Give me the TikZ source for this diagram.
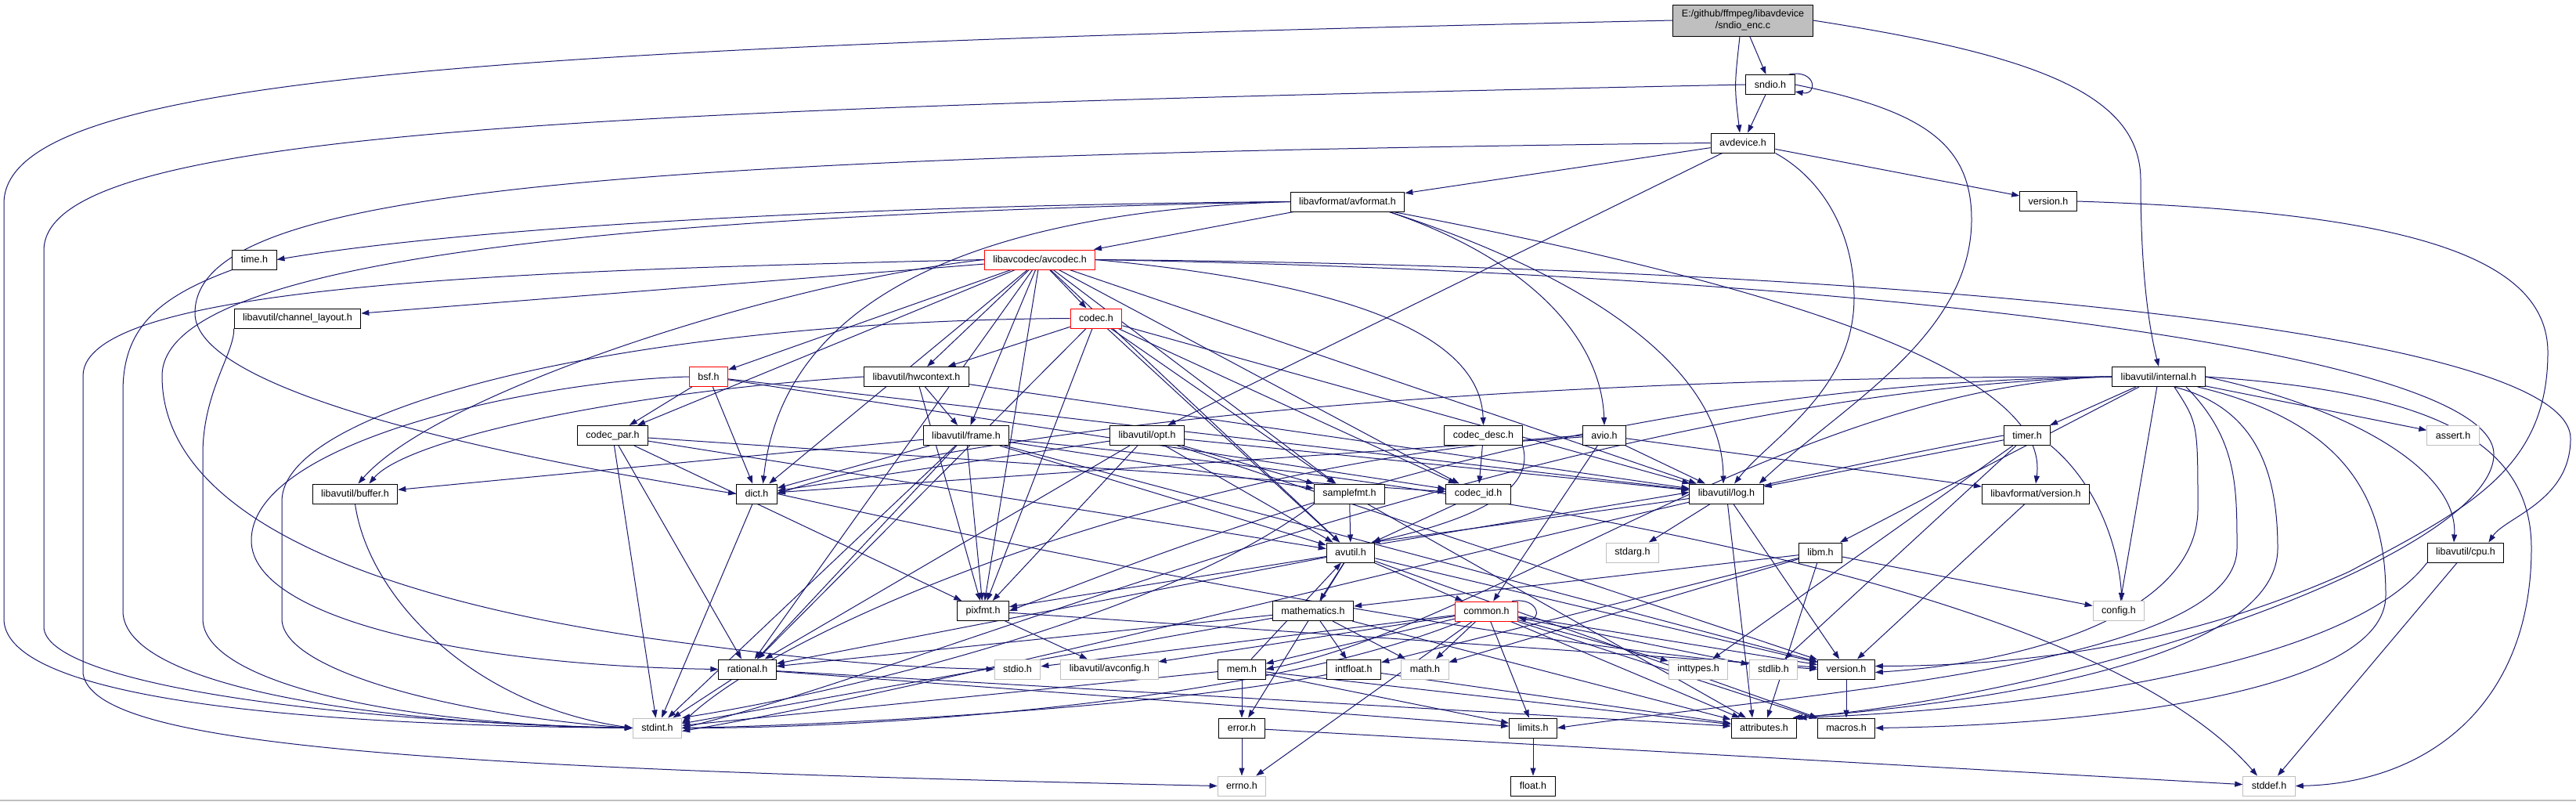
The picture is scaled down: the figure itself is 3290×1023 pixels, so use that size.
\documentclass[tikz,border=0pt]{standalone}
\usepackage{fontspec}
\setmainfont{Liberation Sans}
\usetikzlibrary{arrows.meta,calc,backgrounds}
\definecolor{edgec}{HTML}{191970}
\definecolor{grayb}{HTML}{BFBFBF}
\definecolor{encf}{HTML}{BFBFBF}
\begin{document}
\begin{tikzpicture}[x=1pt,y=-1pt,
  nd/.style={draw=black,fill=white,line width=1pt,minimum height=25pt,inner xsep=11pt,inner ysep=0pt,font=\fontsize{12.5}{15}\selectfont},
  sy/.style={nd,draw=grayb},
  tr/.style={nd,draw=red},
  ed/.style={draw=edgec,line width=1pt,-{Triangle[length=10pt,width=7pt]}}]
\useasboundingbox (0,0) rectangle (3290,1023);
\node[nd,fill=encf,minimum height=40pt,align=center] (enc) at (2226,26) {E:/github/ffmpeg/libavdevice\\/sndio\_enc.c};
\node[nd] (sndio) at (2261,108) {sndio.h};
\node[nd] (avdev) at (2226,182.5) {avdevice.h};
\node[nd] (avfmt) at (1721,257.5) {libavformat/avformat.h};
\node[nd] (lavdver) at (2616,257) {version.h};
\node[nd] (timeh) at (325,331.5) {time.h};
\node[tr] (avcodec) at (1328,331.5) {libavcodec/avcodec.h};
\node[nd] (chlayout) at (380,406.5) {libavutil/channel\_layout.h};
\node[tr] (codec) at (1400,406.5) {codec.h};
\node[tr] (bsf) at (905,481) {bsf.h};
\node[nd] (hwctx) at (1170.5,481) {libavutil/hwcontext.h};
\node[nd] (internal) at (2757,481) {libavutil/internal.h};
\node[nd] (codecpar) at (782.5,556) {codec\_par.h};
\node[nd] (frame) at (1234,556) {libavutil/frame.h};
\node[nd] (opt) at (1465,556) {libavutil/opt.h};
\node[nd] (codecdesc) at (1894.5,556) {codec\_desc.h};
\node[nd] (avio) at (2049,556) {avio.h};
\node[nd] (timer) at (2589,556) {timer.h};
\node[sy] (assert) at (3133,556) {assert.h};
\node[nd] (buffer) at (453.5,630.5) {libavutil/buffer.h};
\node[nd] (dict) at (966.5,630.5) {dict.h};
\node[nd] (samplefmt) at (1723.5,630.5) {samplefmt.h};
\node[nd] (codecid) at (1888,630.5) {codec\_id.h};
\node[nd] (log) at (2205,630.5) {libavutil/log.h};
\node[nd] (lavfver) at (2600,630.5) {libavformat/version.h};
\node[nd] (avutil) at (1725,705.5) {avutil.h};
\node[sy] (stdarg) at (2085,705.5) {stdarg.h};
\node[nd] (libm) at (2325,705.5) {libm.h};
\node[nd] (cpu) at (3149,705.5) {libavutil/cpu.h};
\node[nd] (pixfmt) at (1255.6,780) {pixfmt.h};
\node[nd] (mathem) at (1677,780) {mathematics.h};
\node[tr] (common) at (1898.5,780.5) {common.h};
\node[sy] (config) at (2706,780) {config.h};
\node[nd] (rational) at (954.5,854.5) {rational.h};
\node[sy] (stdio) at (1299.5,854.5) {stdio.h};
\node[sy] (avconfig) at (1417,854.5) {libavutil/avconfig.h};
\node[nd] (mem) at (1586,854.5) {mem.h};
\node[nd] (intfloat) at (1729,854.5) {intfloat.h};
\node[sy] (math) at (1820,854.5) {math.h};
\node[sy] (inttypes) at (2169,854.5) {inttypes.h};
\node[sy] (stdlib) at (2265,854.5) {stdlib.h};
\node[nd] (uver) at (2358,854.5) {version.h};
\node[sy] (stdint) at (839.5,929.5) {stdint.h};
\node[nd] (error) at (1586,929.5) {error.h};
\node[nd] (limits) at (1958,929.5) {limits.h};
\node[nd] (attrib) at (2253,929.5) {attributes.h};
\node[nd] (macros) at (2358,929.5) {macros.h};
\node[sy] (errno) at (1586,1003.5) {errno.h};
\node[nd] (float) at (1958,1003.5) {float.h};
\node[sy] (stddef) at (2898,1003.5) {stddef.h};
\begin{pgfonlayer}{background}
\fill[white] (0,0) rectangle (3290,1023);
\draw[grayb,line width=2pt] (0,1022) -- (3290,1022);
% sndio_enc.c
\draw[ed] (enc) -- (sndio);
\draw[ed] ($(enc.south)+(-4,0)$) .. controls (2215,110) .. ($(avdev.north)+(-4,0)$);
\draw[ed] (enc.west) .. controls (600,60) and (5,100) .. (5,260) -- (5,790) .. controls (5,880) and (300,925) .. (stdint.west);
\draw[ed] (enc.east) .. controls (2600,70) and (2734,120) .. (2734,230) .. controls (2734,350) and (2745,420) .. (internal.north);
% sndio.h
\draw[ed] ($(sndio.north east)+(-8,0)$) .. controls (2320,88) and (2322,122) .. ($(sndio.east)+(0,9)$);
\draw[ed] (sndio) -- (avdev);
\draw[ed] (sndio.west) .. controls (700,140) and (56,170) .. (56,320) -- (56,800) .. controls (56,870) and (400,920) .. (stdint.west);
\draw[ed] (sndio.east) .. controls (2450,140) and (2518,180) .. (2518,280) .. controls (2518,430) and (2350,520) .. ($(log.north east)+(-6,0)$);
% avdevice.h
\draw[ed] (avdev) -- (avfmt);
\draw[ed] (avdev) -- (opt);
\draw[ed] (avdev) -- (lavdver);
\draw[ed] (avdev.south east) .. controls (2330,230) and (2368,300) .. (2368,380) .. controls (2368,500) and (2260,560) .. ($(log.north)+(10,0)$);
\draw[ed] (avdev.west) .. controls (700,200) and (249,250) .. (249,400) .. controls (249,480) and (500,560) .. (dict.west);
\draw[ed] (lavdver.east) .. controls (3050,270) and (3254,320) .. (3254,450) .. controls (3254,600) and (3150,650) .. (3000,730) .. controls (2800,820) and (2600,850) .. ($(uver.east)+(0,-4)$);
% avformat.h
\draw[ed] (avfmt) -- (avcodec);
\draw[ed] (avfmt.west) .. controls (1100,262) and (600,290) .. (timeh.east);
\draw[ed] (avfmt.west) .. controls (800,275) and (207,330) .. (207,480) .. controls (207,650) and (450,760) .. (830,815) .. controls (1050,845) and (1150,852) .. (stdio.west);
\draw[ed] (avfmt.west) .. controls (1250,270) and (1000,380) .. ($(dict.north)+(8,0)$);
\draw[ed] ($(avfmt.south east)+(-20,0)$) .. controls (1950,330) and (2045,430) .. (avio.north);
\draw[ed] ($(avfmt.south east)+(-20,0)$) .. controls (2050,360) and (2200,480) .. ($(log.north)+(-4,0)$);
\draw[ed] ($(avfmt.south east)+(-15,0)$) .. controls (2250,360) and (2620,470) .. (lavfver.north);
\draw[ed] (timeh.south west) .. controls (200,380) and (157,420) .. (157,500) -- (157,780) .. controls (157,880) and (500,925) .. (stdint.west);
% avcodec.h
\foreach \t in {chlayout,bsf,codec,hwctx,frame,dict,pixfmt,rational,samplefmt,codecpar,codecid,log,avutil} {\draw[ed] (avcodec) -- (\t);}
\draw[ed] (avcodec.west) .. controls (700,345) and (106,360) .. (106,480) -- (106,860) .. controls (120,950) and (500,980) .. (errno.west);
\draw[ed] (avcodec.west) .. controls (1000,360) and (560,500) .. ($(buffer.north)+(4,0)$);
\draw[ed] (avcodec.east) .. controls (1700,360) and (1890,420) .. (codecdesc.north);
\draw[ed] (avcodec.east) .. controls (2400,340) and (3283,420) .. (3283,560) .. controls (3283,640) and (3200,660) .. ($(cpu.north east)+(-20,0)$);
\draw[ed] (avcodec.east) .. controls (2400,350) and (3185,450) .. (3185,580) .. controls (3185,700) and (2700,880) .. ($(attrib.north east)+(-3,0)$);
\draw[ed] (chlayout.south west) .. controls (300,450) and (259,500) .. (259,580) -- (259,790) .. controls (259,870) and (500,925) .. (stdint.west);
% codec.h
\foreach \t in {hwctx,avutil,log,pixfmt,rational,samplefmt,codecid} {\draw[ed] (codec) -- (\t);}
\draw[ed] (codec.west) .. controls (800,410) and (360,520) .. (360,640) -- (360,790) .. controls (360,860) and (600,915) .. (stdint.west);
% bsf.h
\foreach \t in {dict,log,codecid,codecpar} {\draw[ed] (bsf) -- (\t);}
\draw[ed] (bsf.west) .. controls (700,485) and (321,560) .. (321,690) .. controls (321,790) and (600,850) .. (rational.west);
% hwcontext.h
\foreach \t in {frame,log,pixfmt} {\draw[ed] (hwctx) -- (\t);}
\draw[ed] (hwctx.west) .. controls (800,500) and (520,560) .. ($(buffer.north)+(18,0)$);
% frame.h
\foreach \t in {buffer,dict,rational,stdint,pixfmt,samplefmt,avutil,uver} {\draw[ed] (frame) -- (\t);}
\draw[ed] (frame) .. controls (2100,640) and (2700,780) .. ($(stddef.north)+(-15,0)$);
% opt.h
\foreach \t in {rational,avutil,dict,log,pixfmt,samplefmt,uver} {\draw[ed] (opt) -- (\t);}
% codec_desc.h, codec_par.h, codec_id.h
\draw[ed] (codecdesc) -- (codecid);
\draw[ed] (codecdesc.south east) .. controls (1960,620) and (1900,660) .. ($(avutil.north east)+(-5,0)$);
\foreach \t in {stdint,avutil,rational,pixfmt,codecid} {\draw[ed] (codecpar) -- (\t);}
\draw[ed] (codecid) -- (avutil);
% avio.h
\foreach \t in {common,dict,log,lavfver} {\draw[ed] (avio) -- (\t);}
\draw[ed] (avio.west) .. controls (1500,590) and (1000,800) .. ($(stdint.east)+(0,-6)$);
% timer.h
\foreach \t in {log,inttypes,stdlib} {\draw[ed] (timer) -- (\t);}
\draw[ed] (timer.south east) .. controls (2680,620) and (2706,700) .. ($(config.north)+(4,0)$);
\draw[ed] (timer.west) .. controls (2100,640) and (1300,860) .. ($(stdint.east)+(0,4)$);
% internal.h
\foreach \t in {timer,assert,config,libm} {\draw[ed] (internal) -- (\t);}
\draw[ed] (internal.west) .. controls (2300,490) and (1900,800) .. (mem.east);
\draw[ed] (internal.west) .. controls (2000,490) and (1500,700) .. (pixfmt.east);
\draw[ed] (internal.west) .. controls (1800,480) and (1200,560) .. (dict.east);
\draw[ed] (internal.west) .. controls (2000,500) and (1200,850) .. (stdint.east);
\draw[ed] (internal.east) .. controls (3000,520) and (3140,600) .. ($(cpu.north)+(-15,0)$);
\draw[ed] (internal.east) .. controls (3100,500) and (3233,560) .. (3233,700) .. controls (3233,900) and (3100,1000) .. (stddef.east);
\draw[ed] ($(internal.south east)+(-40,0)$) .. controls (2880,520) and (2909,600) .. (2909,700) .. controls (2909,850) and (2500,900) .. ($(attrib.north east)+(-6,0)$);
\draw[ed] ($(internal.south east)+(-10,0)$) .. controls (3000,540) and (3047,640) .. (3047,760) .. controls (3047,880) and (2700,925) .. (macros.east);
\draw[ed] ($(internal.south)+(20,0)$) .. controls (2807,540) .. (2807,650) .. controls (2807,780) and (2600,845) .. ($(uver.east)+(0,4)$);
\draw[ed] ($(internal.south)+(35,0)$) .. controls (2857,560) and (2857,620) .. (2857,700) .. controls (2857,850) and (2300,885) .. (limits.east);
% libm.h
\foreach \t in {math,config,attrib,intfloat,mathem} {\draw[ed] (libm) -- (\t);}
% mathematics.h
\foreach \t in {stdint,math,attrib,rational,intfloat} {\draw[ed] (mathem) -- (\t);}
% common.h
\foreach \t in {errno,inttypes,limits,math,stdio,stdlib,attrib,macros,uver,avconfig,mem} {\draw[ed] (common) -- (\t);}
\draw[ed] (common) .. controls (1600,900) and (1100,930) .. (stdint.east);
\draw[ed] ($(common.north east)+(-8,0)$) .. controls (1968,762) and (1970,796) .. ($(common.east)+(0,8)$);
% avutil.h
\foreach \t in {common,error,rational,uver,macros,mathem,pixfmt} {\draw[ed] (avutil) -- (\t);}
\draw[ed] ($(log.west)+(0,6)$) -- ($(avutil.north east)+(-4,0)$);
\draw[ed] ($(avutil.north east)+(6,2)$) -- ($(log.west)+(0,-2)$);
% log.h
\draw[ed] (log) -- (stdarg);
\draw[ed] (log) -- (uver);
\draw[ed] (log) -- ($(attrib.north)+(-15,0)$);
% mem.h
\foreach \t in {limits,stdint,attrib,error,avutil} {\draw[ed] (mem) -- (\t);}
% error.h
\draw[ed] (error) -- (errno);
\draw[ed] (error) -- (stddef);
% rational.h, intfloat.h
\foreach \t in {stdint,limits,attrib} {\draw[ed] (rational) -- (\t);}
\draw[ed] (intfloat) .. controls (1500,900) and (1100,925) .. (stdint.east);
\draw[ed] (intfloat) -- (attrib);
% misc
\draw[ed] (uver) -- (macros);
\draw[ed] (pixfmt) -- (avconfig);
\draw[ed] (pixfmt) -- (uver);
\draw[ed] (dict) -- (stdint);
\draw[ed] (dict.east) .. controls (1400,720) and (1900,820) .. (uver.west);
\draw[ed] (buffer.south) .. controls (470,760) and (600,900) .. (stdint.west);
\draw[ed] (samplefmt.south west) .. controls (1500,780) and (1100,880) .. (stdint.north east);
\draw[ed] (samplefmt) -- (avutil);
\draw[ed] (samplefmt) -- (attrib);
\draw[ed] (limits) -- (float);
\draw[ed] (cpu) -- (stddef);
\draw[ed] (cpu.south west) .. controls (3000,850) and (2600,905) .. ($(attrib.north east)+(2,0)$);
\draw[ed] (lavfver) -- (uver);
\end{pgfonlayer}
\end{tikzpicture}
\end{document}
